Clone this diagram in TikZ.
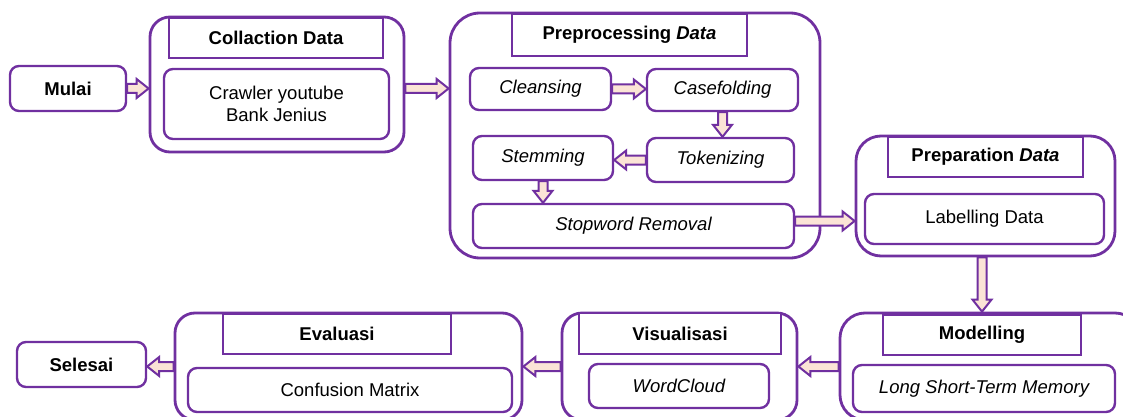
\documentclass[tikz,border=0pt]{standalone}
\usepackage{fontspec}
\setmainfont{Liberation Sans}
\usetikzlibrary{calc}
\definecolor{ungu}{RGB}{112,48,160}
\definecolor{pinkmuda}{RGB}{251,228,214}

\begin{document}
\begin{tikzpicture}[x=1pt,y=-1pt,
  box node/.style={draw=ungu,line width=2.4pt,rounded corners=9pt,font=\fontsize{18.5}{22}\selectfont,align=center,inner sep=0pt},
  outer node/.style={draw=ungu,line width=2.8pt,rounded corners=#1,inner sep=0pt},
  outer node/.default=22pt,
  title node/.style={draw=ungu,line width=2.4pt,fill=white,font=\fontsize{18.5}{22}\selectfont\bfseries,inner sep=0pt},
  block arrow/.style={draw=ungu,fill=pinkmuda,line width=2pt,
    to path={($(\tikztotarget)!12pt!(\tikztostart)$) coordinate (ujung)
      ($(\tikztostart)!4.5pt!90:(\tikztotarget)$) -- ($(ujung)!4.5pt!-90:(\tikztostart)$)
      -- ($(ujung)!9.5pt!-90:(\tikztostart)$) -- (\tikztotarget)
      -- ($(ujung)!9.5pt!90:(\tikztostart)$) -- ($(ujung)!4.5pt!90:(\tikztostart)$)
      -- ($(\tikztostart)!4.5pt!-90:(\tikztotarget)$) -- cycle}}]

  \useasboundingbox (0,0) rectangle (1123,417);

  % baris atas
  \node[box node,font=\fontsize{18.5}{22}\selectfont\bfseries,minimum width=116pt,minimum height=45pt] (mulai) at (68,88.5) {Mulai};

  \node[outer node=20pt,minimum width=254pt,minimum height=135pt] (coll) at (277,84.5) {};
  \node[title node,minimum width=214pt,minimum height=40pt] (colltitle) at (276,38) {Collaction Data};
  \node[box node,minimum width=225pt,minimum height=70pt] (crawler) at (276.5,104) {Crawler youtube\\Bank Jenius};

  \node[outer node=30pt,minimum width=370pt,minimum height=245pt] (prep) at (635,135.5) {};
  \node[title node,minimum width=235pt,minimum height=42pt] (preptitle) at (629.5,35) {Preprocessing \textit{Data}};
  \node[box node,font=\fontsize{18.5}{22}\selectfont\itshape,minimum width=141pt,minimum height=42pt] (clean) at (540.5,89) {Cleansing};
  \node[box node,font=\fontsize{18.5}{22}\selectfont\itshape,minimum width=151pt,minimum height=42pt] (case) at (722.5,90) {Casefolding};
  \node[box node,font=\fontsize{18.5}{22}\selectfont\itshape,minimum width=147pt,minimum height=44pt] (tok) at (720.5,160) {Tokenizing};
  \node[box node,font=\fontsize{18.5}{22}\selectfont\itshape,minimum width=140pt,minimum height=44pt] (stem) at (543,158) {Stemming};
  \node[box node,font=\fontsize{18.5}{22}\selectfont\itshape,minimum width=321pt,minimum height=44pt] (stop) at (633.5,226) {Stopword Removal};

  \node[outer node=25pt,minimum width=259pt,minimum height=120pt] (prepd) at (985.5,196) {};
  \node[title node,minimum width=195pt,minimum height=40pt] (prepdtitle) at (985.5,157) {Preparation \textit{Data}};
  \node[box node,minimum width=239pt,minimum height=50pt] (label) at (984.5,219) {Labelling Data};

  % baris bawah
  \node[outer node=25pt,minimum width=300pt,minimum height=107pt] (model) at (990,366.5) {};
  \node[title node,minimum width=198pt,minimum height=40pt] (modtitle) at (982,335) {Modelling};
  \node[box node,font=\fontsize{18.5}{22}\selectfont\itshape,minimum width=262pt,minimum height=47pt] (lstm) at (984,388.5) {Long Short-Term Memory};

  \node[outer node=20pt,minimum width=235pt,minimum height=107pt] (vis) at (679.5,366.5) {};
  \node[title node,minimum width=202pt,minimum height=41pt] (vistitle) at (680,333.5) {Visualisasi};
  \node[box node,font=\fontsize{18.5}{22}\selectfont\itshape,minimum width=180pt,minimum height=44pt] (wc) at (679,386) {WordCloud};

  \node[outer node=20pt,minimum width=347pt,minimum height=107pt] (eval) at (348.5,366.5) {};
  \node[title node,minimum width=228pt,minimum height=40pt] (evaltitle) at (337,334) {Evaluasi};
  \node[box node,minimum width=324pt,minimum height=44pt] (cm) at (350,390) {Confusion Matrix};

  \node[box node,font=\fontsize{18.5}{22}\selectfont\bfseries,minimum width=129pt,minimum height=45pt] (selesai) at (81.5,364.5) {Selesai};

  \path[block arrow]
    (mulai.east) to (mulai.east -| coll.west)
    (coll.east |- mulai.east) to (prep.west |- mulai.east)
    (clean.east) to (clean.east -| case.west)
    (case.south) to (case.south |- tok.north)
    (tok.west) to (tok.west -| stem.east)
    (stem.south) to (stem.south |- stop.north)
    ($(stop.east)+(0,-5)$) to ($(stop.east -| prepd.west)+(0,-5)$)
    (prepd.south -| modtitle.north) to (model.north -| modtitle.north)
    (model.west) to (model.west -| vis.east)
    (vis.west) to (vis.west -| eval.east)
    (eval.west) to (eval.west -| selesai.east);
\end{tikzpicture}
\end{document}
